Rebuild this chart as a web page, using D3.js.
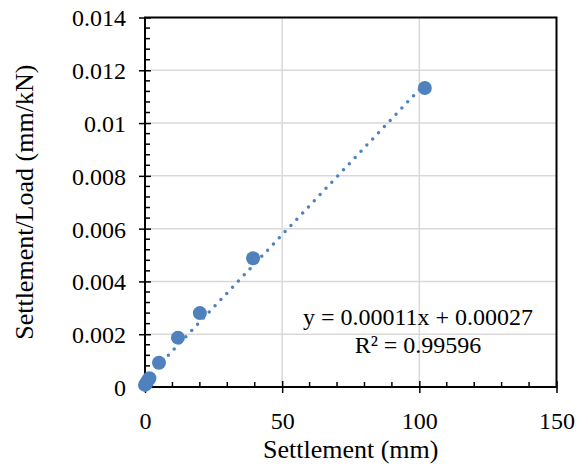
<!DOCTYPE html>
<html>
<head>
<meta charset="utf-8">
<script src="https://cdn.jsdelivr.net/npm/d3@7"></script>
<style>
  body { margin: 0; background: #fff; }
</style>
</head>
<body>
<div id="chart"></div>
<script>
// measured data (settlement in mm, settlement/load in mm/kN)
var settlement = [0.0, 0.5, 1.0, 1.6, 5.1, 12.0, 20.0, 39.4, 102.0];
var ratio = [0.00008, 0.00015, 0.00024, 0.00033, 0.00092, 0.00187, 0.0028, 0.00488, 0.01133];

// linear trendline as printed on the chart
var slope = 0.00011, intercept = 0.00027;
var eqLines = ["y = 0.00011x + 0.00027", "R\u00b2 = 0.99596"];

var xTicks = [0, 50, 100, 150];
var yTicks = [0, 0.002, 0.004, 0.006, 0.008, 0.01, 0.012, 0.014];
var xTitle = "Settlement (mm)", yTitle = "Settlement/Load (mm/kN)";

var width = 585, height = 468;
var blue = "#4F81BD";
var serif = "'Liberation Serif', 'Times New Roman', Times, serif";

var svg = d3.select("#chart").append("svg")
    .attr("width", width)
    .attr("height", height)
    .style("font-family", serif);

var x = d3.scaleLinear().domain([0, 150]).range([145, 556.5]);
var y = d3.scaleLinear().domain([0, 0.014]).range([387, 17.5]);

// gridlines
svg.append("g").selectAll("line")
    .data(yTicks.slice(1, -1))
    .enter().append("line")
    .attr("x1", x(0)).attr("x2", x(150))
    .attr("y1", d => y(d)).attr("y2", d => y(d))
    .style("stroke", "#d9d9d9").style("stroke-width", 1.5);

svg.append("g").selectAll("line")
    .data(xTicks.slice(1, -1))
    .enter().append("line")
    .attr("x1", d => x(d)).attr("x2", d => x(d))
    .attr("y1", y(0)).attr("y2", y(0.014))
    .style("stroke", "#d9d9d9").style("stroke-width", 1.5);

// minor ticks (inside)
var xMinor = d3.range(0, 151, 10).filter(d => xTicks.indexOf(d) < 0);
var yMinor = d3.range(0, 36).map(d => d * 0.0004).filter((d, i) => i % 5 != 0);

svg.append("g").selectAll("line")
    .data(xMinor)
    .enter().append("line")
    .attr("x1", d => x(d)).attr("x2", d => x(d))
    .attr("y1", y(0)).attr("y2", y(0) - 5)
    .style("stroke", "#000").style("stroke-width", 1.5);

svg.append("g").selectAll("line")
    .data(yMinor)
    .enter().append("line")
    .attr("x1", x(0)).attr("x2", x(0) + 5)
    .attr("y1", d => y(d)).attr("y2", d => y(d))
    .style("stroke", "#000").style("stroke-width", 1.5);

// axes with crossing major ticks
var xAxis = svg.append("g")
    .attr("transform", "translate(0," + y(0) + ")")
    .call(d3.axisBottom(x).tickValues(xTicks).tickSizeOuter(0).tickFormat(d3.format("d")));
xAxis.selectAll(".tick line").attr("y2", 6).attr("y1", -6);
xAxis.selectAll(".tick text").attr("y", 25);

var yAxis = svg.append("g")
    .attr("transform", "translate(" + x(0) + ",0)")
    .call(d3.axisLeft(y).tickValues(yTicks).tickSizeOuter(0).tickFormat(d => d == 0 ? "0" : String(+d.toFixed(3))));
yAxis.selectAll(".tick line").attr("x1", 6).attr("x2", -6);
yAxis.selectAll(".tick text").attr("x", -19).attr("dy", "0.35em");

svg.selectAll(".domain").remove();
svg.selectAll(".tick line").style("stroke", "#000").style("stroke-width", 1.5);
[xAxis, yAxis].forEach(function(a) {
    a.attr("font-family", null).attr("font-size", null);
    a.selectAll(".tick text")
        .style("font-family", serif)
        .style("font-size", "24px")
        .style("fill", "#000");
});

// plot border
svg.append("rect")
    .attr("x", x(0)).attr("y", y(0.014))
    .attr("width", x(150) - x(0)).attr("height", y(0) - y(0.014))
    .style("fill", "none").style("stroke", "#000").style("stroke-width", 2);

// trendline
var xExt = d3.extent(settlement);
svg.append("line")
    .attr("x1", x(xExt[0])).attr("y1", y(slope * xExt[0] + intercept))
    .attr("x2", x(xExt[1])).attr("y2", y(slope * xExt[1] + intercept))
    .style("stroke", blue).style("stroke-width", 3.5)
    .style("stroke-linecap", "round").style("stroke-dasharray", "0,8.5");

// points
svg.append("g").selectAll("circle")
    .data(settlement)
    .enter().append("circle")
    .attr("cx", d => x(d))
    .attr("cy", (d, i) => y(ratio[i]))
    .attr("r", 7)
    .style("fill", blue);

// equation label
svg.append("g").selectAll("text")
    .data(eqLines)
    .enter().append("text")
    .attr("x", 418)
    .attr("y", (d, i) => 325 + i * 28)
    .attr("text-anchor", "middle")
    .style("font-family", serif)
    .style("font-size", "24px")
    .text(d => d);

// axis titles
svg.append("text")
    .attr("x", x(75)).attr("y", 458)
    .attr("text-anchor", "middle")
    .style("font-family", serif)
    .style("font-size", "26px")
    .text(xTitle);

svg.append("text")
    .attr("transform", "translate(33," + ((y(0) + y(0.014)) / 2) + ") rotate(-90)")
    .attr("text-anchor", "middle")
    .style("font-family", serif)
    .style("font-size", "26px")
    .text(yTitle);
</script>
</body>
</html>
